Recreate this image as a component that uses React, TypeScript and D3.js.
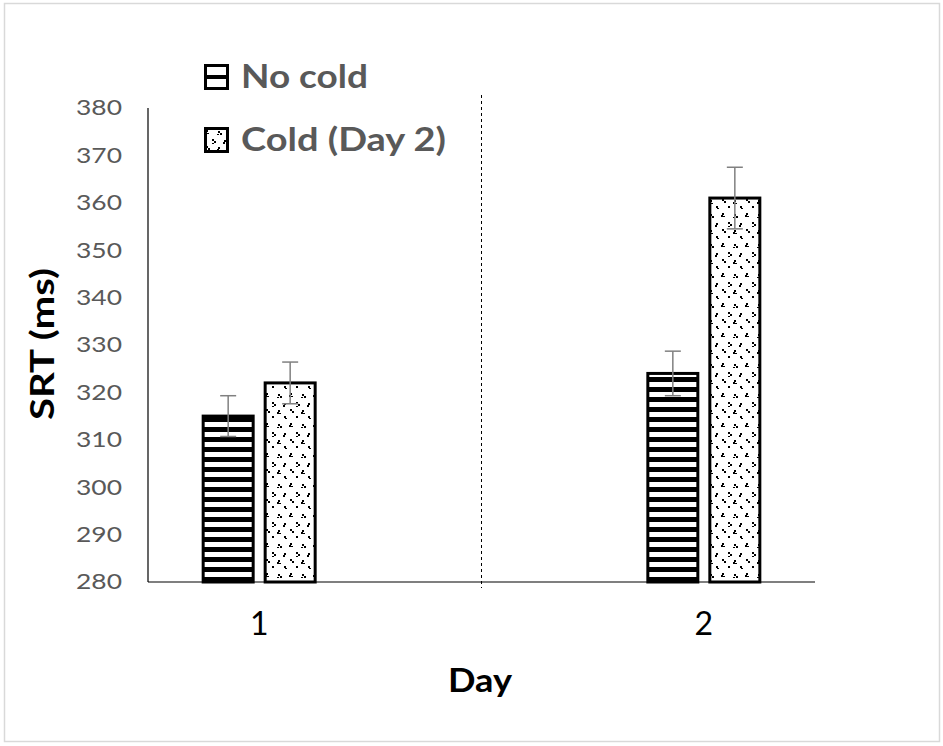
import React from "react";
import * as d3 from "d3";

const categories = ["1", "2"];
const seriesNames = ["No cold", "Cold (Day 2)"];
const noCold = [315, 324];
const cold = [322, 361];
const noColdErr = [4.3, 4.7];
const coldErr = [4.4, 6.5];
const yTicks = [280, 290, 300, 310, 320, 330, 340, 350, 360, 370, 380];

const W = 943;
const H = 746;
const left = 148;
const right = 815;
const top = 108;
const bottom = 582;

export default function App() {
  const x = d3.scalePoint<string>().domain(categories).range([left, right]).padding(0.25);
  const y = d3.scaleLinear().domain([280, 380]).range([bottom, top]);
  const barW = 50;
  const offsets = [-56, 6];
  const series = [
    { name: seriesNames[0], values: noCold, err: noColdErr, fill: "url(#stripes)", len: 127 },
    { name: seriesNames[1], values: cold, err: coldErr, fill: "url(#dots)", len: 205 },
  ];
  const font = "Lato, 'Open Sans', sans-serif";
  const mid = ((x(categories[0]) as number) + (x(categories[1]) as number)) / 2;

  return (
    <svg width={W} height={H} style={{ position: "absolute", left: 0, top: 0, background: "#fff" }}>
      <defs>
        <pattern id="stripes" patternUnits="userSpaceOnUse" width={10} height={10}>
          <rect width={10} height={10} fill="#000" />
          <rect y={2} width={10} height={5} fill="#fff" />
        </pattern>
        <pattern id="dots" patternUnits="userSpaceOnUse" width={24} height={30}>
          <rect width={24} height={30} fill="#fff" />
          <g fill="#000">
            <rect x={2} y={3} width={2} height={2} />
            <rect x={1} y={5} width={2} height={2} />
            <rect x={3} y={6} width={2} height={1} />
            <rect x={14} y={4} width={2} height={2} />
            <rect x={16} y={6} width={2} height={2} />
            <rect x={13} y={7} width={2} height={1} />
            <rect x={8} y={12} width={2} height={2} />
            <rect x={10} y={14} width={2} height={2} />
            <rect x={8} y={16} width={2} height={1} />
            <rect x={20} y={13} width={2} height={2} />
            <rect x={19} y={15} width={2} height={2} />
            <rect x={2} y={19} width={2} height={2} />
            <rect x={4} y={21} width={2} height={2} />
            <rect x={14} y={20} width={2} height={2} />
            <rect x={13} y={22} width={2} height={2} />
            <rect x={15} y={23} width={2} height={1} />
            <rect x={8} y={26} width={2} height={2} />
            <rect x={20} y={26} width={2} height={2} />
            <rect x={21} y={28} width={2} height={1} />
          </g>
        </pattern>
      </defs>
      <rect x={4.5} y={3.5} width={935} height={738} fill="#fff" stroke="#d9d9d9" strokeWidth={1.5} />

      {/* axes */}
      <line x1={left} x2={left} y1={top} y2={bottom} stroke="#000" strokeWidth={1.2} />
      <line x1={left} x2={right} y1={bottom} y2={bottom} stroke="#000" strokeWidth={1.2} />
      <line x1={mid} x2={mid} y1={95} y2={588} stroke="#000" strokeWidth={1} strokeDasharray="3,3" />

      {yTicks.map((t) => (
        <text key={t} x={122} y={y(t)} dy="0.35em" textAnchor="end" fontFamily={font} fontSize={21} fill="#595959" textLength={46} lengthAdjust="spacingAndGlyphs">
          {t}
        </text>
      ))}
      {categories.map((c) => (
        <text key={c} x={x(c) as number} y={635} textAnchor="middle" fontFamily={font} fontSize={32} fill="#000">
          {c}
        </text>
      ))}

      {/* bars */}
      {series.map((s, si) =>
        categories.map((c, ci) => {
          const bx = (x(c) as number) + offsets[si];
          const v = s.values[ci];
          const cx = bx + barW / 2;
          return (
            <g key={`${si}-${ci}`}>
              <rect x={bx} y={y(v)} width={barW} height={bottom - y(v)} fill={s.fill} stroke="#000" strokeWidth={3} />
              <line x1={cx} x2={cx} y1={y(v + s.err[ci])} y2={y(v - s.err[ci])} stroke="#808080" strokeWidth={1.5} />
              <line x1={cx - 8} x2={cx + 8} y1={y(v + s.err[ci])} y2={y(v + s.err[ci])} stroke="#808080" strokeWidth={1.5} />
              <line x1={cx - 8} x2={cx + 8} y1={y(v - s.err[ci])} y2={y(v - s.err[ci])} stroke="#808080" strokeWidth={1.5} />
            </g>
          );
        })
      )}

      {/* legend */}
      {series.map((s, i) => (
        <g key={s.name} transform={`translate(204, ${64 + i * 63})`}>
          <rect x={1.5} y={1.5} width={22} height={23} fill={i === 0 ? "#fff" : "url(#dots)"} stroke="#000" strokeWidth={3} />
          {i === 0 && <rect x={1.5} y={11} width={22} height={4} fill="#000" />}
          <text x={37} y={24} fontFamily={font} fontSize={32} fontWeight="bold" fill="#595959" textLength={s.len} lengthAdjust="spacingAndGlyphs">
            {s.name}
          </text>
        </g>
      ))}

      {/* axis titles */}
      <text x={480} y={692} textAnchor="middle" fontFamily={font} fontSize={32} fontWeight="bold" fill="#000" textLength={64} lengthAdjust="spacingAndGlyphs">
        Day
      </text>
      <text transform={`translate(54, 344) rotate(-90)`} textAnchor="middle" fontFamily={font} fontSize={32} fontWeight="bold" fill="#000" textLength={152} lengthAdjust="spacingAndGlyphs">
        SRT (ms)
      </text>
    </svg>
  );
}
